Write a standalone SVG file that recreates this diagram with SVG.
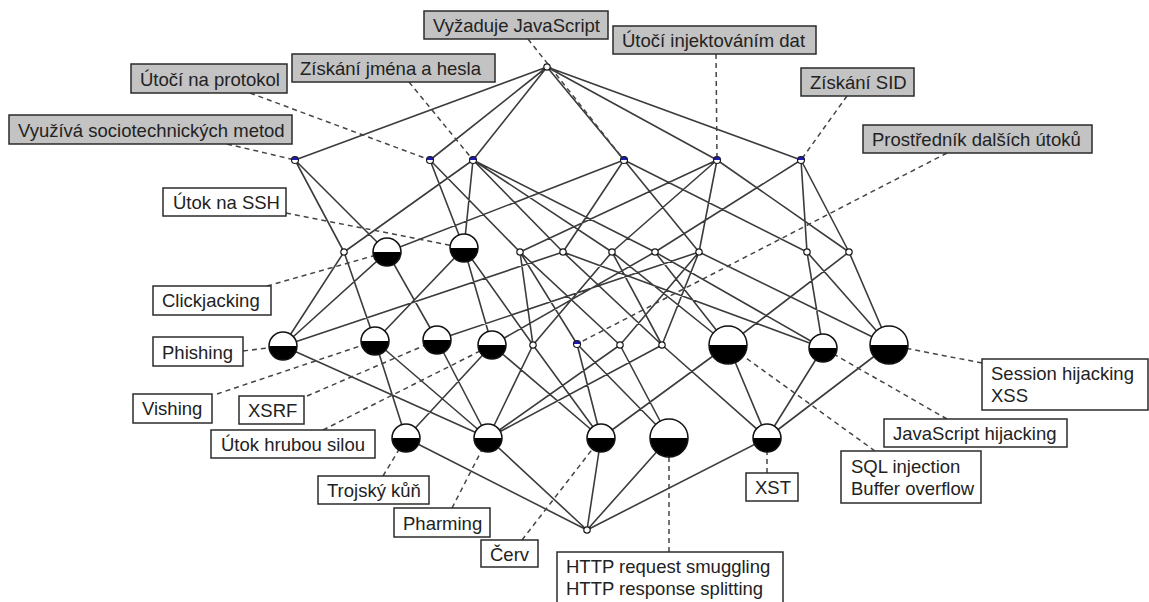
<svg xmlns="http://www.w3.org/2000/svg" width="1149" height="602" viewBox="0 0 1149 602">
<style>
  .edge { stroke:#3c3c3c; stroke-width:1.6; fill:none; stroke-linecap:round; }
  .lead { stroke:#454545; stroke-width:1.5; fill:none; stroke-dasharray:5 4; }
  .abox { fill:#c3c3c3; stroke:#2b2b2b; stroke-width:1.5; }
  .obox { fill:#ffffff; stroke:#2b2b2b; stroke-width:1.5; }
  text { font-family:"Liberation Sans", Arial, "DejaVu Sans", sans-serif; font-size:18.5px; fill:#222222; }
</style>
<defs>
  <!-- plain concept (no own attribute or object) -->
  <g id="c-plain"><circle r="3.2" fill="#ffffff" stroke="#1a1a1a" stroke-width="1.2"/></g>
  <!-- attribute concept: upper half blue -->
  <g id="c-attr">
    <circle r="3.5" fill="#ffffff"/>
    <path d="M-3.5 0 A3.5 3.5 0 0 1 3.5 0Z" fill="#1c1cb4"/>
    <circle r="3.5" fill="none" stroke="#1a1a1a" stroke-width="1.2"/>
  </g>
  <!-- object concept, one object -->
  <g id="c-obj14">
    <circle r="14" fill="#ffffff"/>
    <path d="M-14 0 A14 14 0 0 0 14 0Z" fill="#000000"/>
    <circle r="14" fill="none" stroke="#111111" stroke-width="1.5"/>
  </g>
  <!-- object concept, two objects -->
  <g id="c-obj19">
    <circle r="19" fill="#ffffff"/>
    <path d="M-19 0 A19 19 0 0 0 19 0Z" fill="#000000"/>
    <circle r="19" fill="none" stroke="#111111" stroke-width="1.5"/>
  </g>
</defs>

<rect x="0" y="0" width="1149" height="602" fill="#ffffff"/>

<g id="connectors">
  <g id="edges" class="edge">
    <path d="M547 67L295 160 M547 67L430 160 M547 67L473 160 M547 67L624 160 M547 67L717 160 M547 67L801 160
             M295 160L344 252 M295 160L387 252
             M430 160L464 248 M430 160L520 252
             M473 160L344 252 M473 160L464 248 M473 160L563 252 M473 160L612 252 M473 160L655 252
             M624 160L387 252 M624 160L563 252 M624 160L699 252 M624 160L807 252
             M717 160L520 252 M717 160L612 252 M717 160L699 252 M717 160L849 252
             M801 160L655 252 M801 160L807 252 M801 160L849 252
             M344 252L283 346 M344 252L375 341
             M387 252L283 346 M387 252L437 340
             M464 248L375 341 M464 248L492 345 M464 248L533 345
             M520 252L533 345 M520 252L577 344 M520 252L620 345
             M563 252L283 346 M563 252L662 345 M563 252L823 348
             M612 252L533 345 M612 252L662 345 M612 252L728 345
             M655 252L492 345 M655 252L728 345 M655 252L823 348
             M699 252L437 340 M699 252L620 345 M699 252L662 345 M699 252L889 345
             M807 252L823 348 M807 252L889 345
             M849 252L728 345 M849 252L889 345
             M283 346L488 438
             M375 341L406 438 M375 341L488 438
             M437 340L488 438
             M492 345L406 438 M492 345L601 438
             M533 345L488 438 M533 345L601 438
             M577 344L601 438 M577 344L669 438
             M620 345L488 438 M620 345L669 438
             M662 345L488 438 M662 345L767 438
             M728 345L601 438 M728 345L767 438
             M823 348L767 438
             M889 345L767 438
             M406 438L587 530 M488 438L587 530 M601 438L587 530 M669 438L587 530 M767 438L587 530"/>
  </g>
  <g id="leaders" class="lead">
    <path d="M528 39L624 160 M716 54L717 160 M847 96L801 160 M947 153L577 344
             M250 93L430 160 M409 82L473 160 M227 144L295 160
             M286 213L464 248 M267 286L387 252 M243 351L283 346 M217 394L375 341
             M307 396L437 340 M323 430L492 345 M383 476L406 438 M452 508L488 438
             M522 540L601 438 M669 552L669 438 M767 473L767 438
             M875 451L728 345 M947 419L823 348 M982 363L889 345"/>
  </g>
</g>

<g id="nodes">
  <g id="n-top"><use href="#c-plain" x="547" y="67"/></g>
  <g id="n-sociotech"><use href="#c-attr" x="295" y="160"/></g>
  <g id="n-protokol"><use href="#c-attr" x="430" y="160"/></g>
  <g id="n-jmeno-heslo"><use href="#c-attr" x="473" y="160"/></g>
  <g id="n-javascript"><use href="#c-attr" x="624" y="160"/></g>
  <g id="n-injektovani"><use href="#c-attr" x="717" y="160"/></g>
  <g id="n-sid"><use href="#c-attr" x="801" y="160"/></g>

  <g id="n-b1"><use href="#c-plain" x="344" y="252"/></g>
  <g id="n-clickjacking"><use href="#c-obj14" x="387" y="252"/></g>
  <g id="n-ssh"><use href="#c-obj14" x="464" y="248"/></g>
  <g id="n-b4"><use href="#c-plain" x="520" y="252"/></g>
  <g id="n-b5"><use href="#c-plain" x="563" y="252"/></g>
  <g id="n-b6"><use href="#c-plain" x="612" y="252"/></g>
  <g id="n-b7"><use href="#c-plain" x="655" y="252"/></g>
  <g id="n-b8"><use href="#c-plain" x="699" y="252"/></g>
  <g id="n-b9"><use href="#c-plain" x="807" y="252"/></g>
  <g id="n-b10"><use href="#c-plain" x="849" y="252"/></g>

  <g id="n-phishing"><use href="#c-obj14" x="283" y="346"/></g>
  <g id="n-vishing"><use href="#c-obj14" x="375" y="341"/></g>
  <g id="n-xsrf"><use href="#c-obj14" x="437" y="340"/></g>
  <g id="n-hruba-sila"><use href="#c-obj14" x="492" y="345"/></g>
  <g id="n-c5"><use href="#c-plain" x="533" y="345"/></g>
  <g id="n-prostrednik"><use href="#c-attr" x="577" y="344"/></g>
  <g id="n-c7"><use href="#c-plain" x="620" y="345"/></g>
  <g id="n-c8"><use href="#c-plain" x="662" y="345"/></g>
  <g id="n-sql-bo"><use href="#c-obj19" x="728" y="345"/></g>
  <g id="n-js-hijacking"><use href="#c-obj14" x="823" y="348"/></g>
  <g id="n-session-xss"><use href="#c-obj19" x="889" y="345"/></g>

  <g id="n-trojan"><use href="#c-obj14" x="406" y="438"/></g>
  <g id="n-pharming"><use href="#c-obj14" x="488" y="438"/></g>
  <g id="n-cerv"><use href="#c-obj14" x="601" y="438"/></g>
  <g id="n-http"><use href="#c-obj19" x="669" y="438"/></g>
  <g id="n-xst"><use href="#c-obj14" x="767" y="438"/></g>

  <g id="n-bottom"><use href="#c-plain" x="587" y="530"/></g>
</g>

<g id="labels">
  <g id="l-javascript"><rect class="abox" x="424" y="11" width="184" height="28"/><text x="433" y="31.5">Vyžaduje JavaScript</text></g>
  <g id="l-injektovani"><rect class="abox" x="613" y="26" width="203" height="28"/><text x="622" y="47">Útočí injektováním dat</text></g>
  <g id="l-sid"><rect class="abox" x="801" y="68" width="113" height="28"/><text x="810" y="89">Získání SID</text></g>
  <g id="l-prostrednik"><rect class="abox" x="863" y="125" width="229" height="28"/><text x="872" y="146">Prostředník dalších útoků</text></g>
  <g id="l-protokol"><rect class="abox" x="131" y="64" width="156" height="29"/><text x="140" y="85.5">Útočí na protokol</text></g>
  <g id="l-jmeno-heslo"><rect class="abox" x="292" y="54" width="203" height="28"/><text x="300" y="75">Získání jména a hesla</text></g>
  <g id="l-sociotech"><rect class="abox" x="9" y="115" width="283" height="29"/><text x="18" y="137">Využívá sociotechnických metod</text></g>

  <g id="l-ssh"><rect class="obox" x="163" y="188" width="123" height="28"/><text x="173" y="209">Útok na SSH</text></g>
  <g id="l-clickjacking"><rect class="obox" x="153" y="286" width="118" height="29"/><text x="162" y="307">Clickjacking</text></g>
  <g id="l-phishing"><rect class="obox" x="153" y="337" width="90" height="29"/><text x="162" y="358.5">Phishing</text></g>
  <g id="l-vishing"><rect class="obox" x="133" y="394" width="79" height="29"/><text x="142" y="415">Vishing</text></g>
  <g id="l-xsrf"><rect class="obox" x="239" y="396" width="65" height="28"/><text x="248" y="417">XSRF</text></g>
  <g id="l-hruba-sila"><rect class="obox" x="211" y="430" width="164" height="28"/><text x="221" y="451">Útok hrubou silou</text></g>
  <g id="l-trojan"><rect class="obox" x="318" y="476" width="111" height="28"/><text x="327" y="497">Trojský kůň</text></g>
  <g id="l-pharming"><rect class="obox" x="394" y="508" width="96" height="29"/><text x="403" y="529.5">Pharming</text></g>
  <g id="l-cerv"><rect class="obox" x="481" y="540" width="57" height="27"/><text x="490" y="561">Červ</text></g>
  <g id="l-http"><rect class="obox" x="557" y="552" width="226" height="52"/><text x="566" y="573">HTTP request smuggling</text><text x="566" y="595">HTTP response splitting</text></g>
  <g id="l-xst"><rect class="obox" x="746" y="473" width="52" height="28"/><text x="755" y="494">XST</text></g>
  <g id="l-sql-bo"><rect class="obox" x="841" y="451" width="140" height="52"/><text x="851" y="473">SQL injection</text><text x="851" y="495">Buffer overflow</text></g>
  <g id="l-js-hijacking"><rect class="obox" x="884" y="419" width="183" height="28"/><text x="893" y="440">JavaScript hijacking</text></g>
  <g id="l-session-xss"><rect class="obox" x="982" y="359" width="166" height="51"/><text x="991" y="380">Session hijacking</text><text x="991" y="402">XSS</text></g>
</g>
</svg>
